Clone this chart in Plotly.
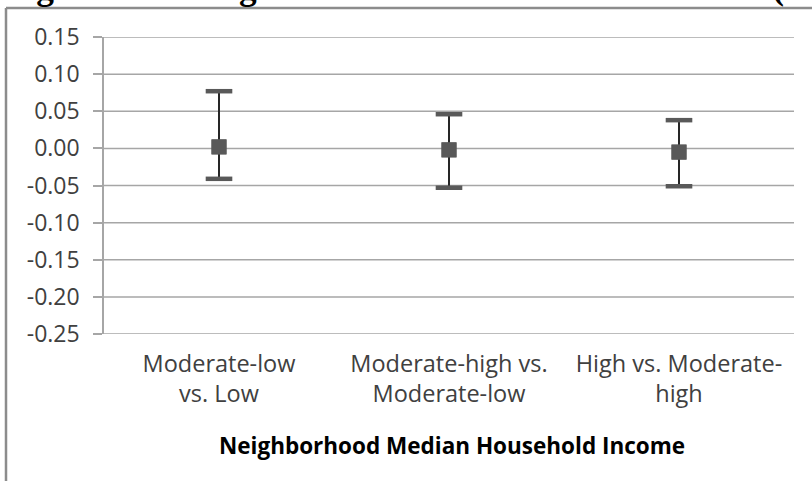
import plotly.graph_objects as go

# Treatment-effect estimates by neighborhood income comparison
categories = ["Moderate-low<br>vs. Low",
              "Moderate-high vs.<br>Moderate-low",
              "High vs. Moderate-<br>high"]
estimate = [0.002, -0.002, -0.005]
upper = [0.077, 0.046, 0.038]
lower = [-0.041, -0.053, -0.051]

y_ticks = [0.15, 0.10, 0.05, 0.00, -0.05, -0.10, -0.15, -0.20, -0.25]
y_tick_text = ["0.15", "0.10", "0.05", "0.00", "-0.05", "-0.10", "-0.15", "-0.20", "-0.25"]

title_text = "Figure 3: Average Treatment Effect on the Treated ("
x_title = "Neighborhood Median Household Income"

W, H = 812, 481
ML, MR, MT, MB = 104, 18, 37, 147
PW, PH = W - ML - MR, H - MT - MB
GRID = "#a6a6a6"


def px_x(px):
    return (px - ML) / PW


def px_y(py):
    return (H - MB - py) / PH


fig = go.Figure()

# interval stems
fig.add_trace(go.Scatter(
    x=categories, y=estimate, mode="markers",
    marker=dict(symbol="square", size=15, color="#595959"),
    error_y=dict(type="data", symmetric=False,
                 array=[u - e for u, e in zip(upper, estimate)],
                 arrayminus=[e - l for e, l in zip(estimate, lower)],
                 thickness=2, width=0, color="#262626"),
    showlegend=False, hoverinfo="skip",
))
# interval end caps
for ends in (upper, lower):
    fig.add_trace(go.Scatter(
        x=categories, y=ends, mode="markers",
        marker=dict(symbol="line-ew", size=19,
                    line=dict(width=4.5, color="#595959")),
        showlegend=False, hoverinfo="skip",
    ))
# point estimates on top
fig.add_trace(go.Scatter(
    x=categories, y=estimate, mode="markers",
    marker=dict(symbol="square", size=15, color="#595959"),
    showlegend=False, hoverinfo="skip",
))

font_main = "Open Sans, Lato, sans-serif"

# horizontal gridlines at every tick, including the range ends
grid_shapes = [
    dict(type="line", xref="paper", yref="y", layer="below",
         x0=0, x1=1, y0=v, y1=v, line=dict(color=GRID, width=1.5))
    for v in y_ticks
]

frame_shapes = [
    dict(type="line", xref="paper", yref="paper", layer="above",
         x0=px_x(6), x1=px_x(6), y0=px_y(H), y1=px_y(8),
         line=dict(color="#8c8c8c", width=2.5)),
    dict(type="line", xref="paper", yref="paper", layer="above",
         x0=px_x(6), x1=px_x(W), y0=px_y(8), y1=px_y(8),
         line=dict(color="#8c8c8c", width=2.5)),
]

fig.update_layout(
    width=W, height=H,
    margin=dict(l=ML, r=MR, t=MT, b=MB, pad=0),
    paper_bgcolor="white", plot_bgcolor="white",
    xaxis=dict(
        type="category", range=[-0.5, 2.5],
        showgrid=False, zeroline=False, showline=False,
        ticks="", ticklabelstandoff=13,
        tickfont=dict(family=font_main, size=23.5, color="#404040"),
        fixedrange=True,
    ),
    yaxis=dict(
        range=[-0.25, 0.15], tickvals=y_ticks, ticktext=y_tick_text,
        showgrid=False, zeroline=False,
        showline=True, linecolor=GRID, linewidth=1.5,
        ticks="outside", ticklen=9, tickcolor=GRID, tickwidth=1.5,
        ticklabelstandoff=9,
        tickfont=dict(family=font_main, size=23, color="#404040"),
        fixedrange=True,
    ),
    shapes=grid_shapes + frame_shapes,
    annotations=[
        dict(text="<b>" + title_text + "</b>", xref="paper", yref="paper",
             x=px_x(786), y=px_y(9.5), xanchor="right", yanchor="bottom",
             showarrow=False,
             font=dict(family="Liberation Serif, Times New Roman, serif",
                       size=35.3, color="black")),
        dict(text="<b>" + x_title + "</b>", xref="paper", yref="paper",
             x=px_x(452), y=px_y(445), xanchor="center", yanchor="middle",
             showarrow=False,
             font=dict(family=font_main, size=22.5, color="black")),
    ],
)

fig.write_html("out.html")
